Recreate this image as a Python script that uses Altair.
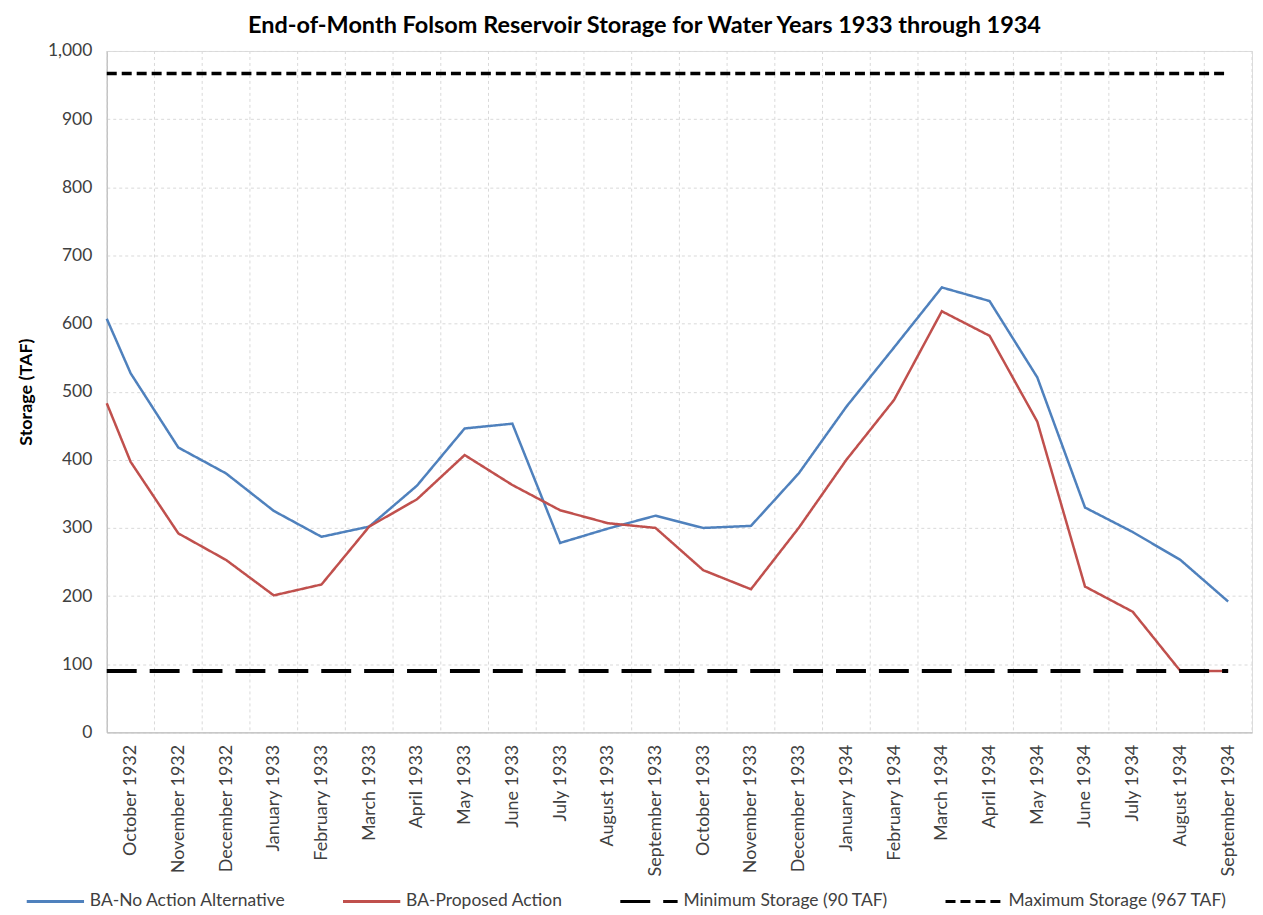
import json
import altair as alt
import pandas as pd

months = [
    "October 1932", "November 1932", "December 1932", "January 1933",
    "February 1933", "March 1933", "April 1933", "May 1933", "June 1933",
    "July 1933", "August 1933", "September 1933", "October 1933",
    "November 1933", "December 1933", "January 1934", "February 1934",
    "March 1934", "April 1934", "May 1934", "June 1934", "July 1934",
    "August 1934", "September 1934",
]
no_action = [527, 418, 380, 325, 287, 302, 362, 446, 453, 278, 299, 318,
             300, 303, 380, 478, 565, 653, 633, 521, 330, 294, 253, 192]
proposed = [397, 292, 253, 201, 217, 302, 342, 407, 363, 326, 307, 300,
            238, 210, 300, 400, 488, 618, 582, 456, 214, 177, 90, 90]
start_no_action = 607
start_proposed = 483
min_storage = 90
max_storage = 967
series_names = [
    "BA-No Action Alternative",
    "BA-Proposed Action",
    "Minimum Storage (90 TAF)",
    "Maximum Storage (967 TAF)",
]
series_colors = ["#4F81BD", "#C0504D", "#000000", "#000000"]
series_dashes = [[1, 0], [1, 0], [30, 13], [10, 5]]
y_ticks = list(range(0, 1001, 100))

FONT = "Lato"

# positions: start-of-period point sits at the left edge (-0.5), months at 0..23
xs = [-0.5] + list(range(len(months)))
rows = []
for x, v in zip(xs, [start_no_action] + no_action):
    rows.append({"x": x, "value": v, "series": series_names[0]})
for x, v in zip(xs, [start_proposed] + proposed):
    rows.append({"x": x, "value": v, "series": series_names[1]})
df_lines = pd.DataFrame(rows)

df_min = pd.DataFrame({"x": [xs[0], xs[-1]], "value": [min_storage] * 2,
                       "series": [series_names[2]] * 2})
df_max = pd.DataFrame({"x": [xs[0], xs[-1]], "value": [max_storage] * 2,
                       "series": [series_names[3]] * 2})
df_grid = pd.DataFrame({"b": [i - 0.5 for i in range(len(months) + 1)]})

x_scale = alt.Scale(domain=[-0.5, len(months) - 0.5], nice=False, zero=False)
y_scale = alt.Scale(domain=[0, 1000], nice=False)

label_expr = json.dumps(months) + "[datum.value]"

x_enc = alt.X(
    "x:Q", scale=x_scale,
    axis=alt.Axis(
        values=list(range(len(months))), labelExpr=label_expr, title=None,
        grid=False, ticks=False, labelAngle=270, labelAlign="right",
        labelBaseline="middle", labelPadding=12, labelFont=FONT,
        labelFontSize=18, labelColor="#404040", domainColor="#bfbfbf",
        domainWidth=1.3, labelOverlap=False, labelBound=False,
    ),
)
y_enc = alt.Y(
    "value:Q", scale=y_scale,
    axis=alt.Axis(
        values=y_ticks, format=",.0f", title="Storage (TAF)", grid=True,
        gridDash=[3, 3], gridColor="#d9d9d9", gridWidth=1, ticks=False,
        labelPadding=15, labelFont=FONT, labelFontSize=17.5, labelColor="#404040",
        titleFont=FONT, titleFontSize=18, titleFontWeight="bold",
        titleColor="#000000", titlePadding=12, domainColor="#bfbfbf",
        domainWidth=1.3,
    ),
)
legend_args = dict(
    title=None, orient="none", direction="horizontal", legendX=-82,
    legendY=822, symbolType="stroke", symbolSize=3300,
    symbolStrokeWidth=3, labelFont=FONT, labelFontSize=17.5,
    labelColor="#404040", columnPadding=50, labelOffset=4, labelLimit=0,
)
color_enc = alt.Color(
    "series:N",
    scale=alt.Scale(domain=series_names, range=series_colors),
    legend=alt.Legend(**legend_args),
)
dash_enc = alt.StrokeDash(
    "series:N",
    scale=alt.Scale(domain=series_names, range=series_dashes),
    legend=alt.Legend(**legend_args),
)

grid = alt.Chart(df_grid).mark_rule(
    color="#d9d9d9", strokeDash=[3, 3], strokeWidth=1
).encode(x=alt.X("b:Q", scale=x_scale))

lines = alt.Chart(df_lines).mark_line(strokeWidth=2.5).encode(
    x=x_enc, y=y_enc, color=color_enc, strokeDash=dash_enc,
    detail="series:N",
)
min_line = alt.Chart(df_min).mark_line(strokeWidth=4).encode(
    x=alt.X("x:Q", scale=x_scale), y=alt.Y("value:Q", scale=y_scale),
    color=color_enc, strokeDash=dash_enc,
)
max_line = alt.Chart(df_max).mark_line(strokeWidth=3.5).encode(
    x=alt.X("x:Q", scale=x_scale), y=alt.Y("value:Q", scale=y_scale),
    color=color_enc, strokeDash=dash_enc,
)

chart = alt.layer(grid, lines, min_line, max_line).properties(
    width=1148,
    height=683,
    padding={"left": 9, "top": 4, "right": 2, "bottom": 0},
    title=alt.TitleParams(
        "End-of-Month Folsom Reservoir Storage for Water Years 1933 through 1934",
        font=FONT, fontSize=23.5, fontWeight="bold", color="#000000",
        anchor="middle", dx=-35, offset=5,
    ),
).configure_view(stroke="#404040", strokeWidth=1.3).configure(background="white")

chart.save("out.html", embed_options={"renderer": "svg", "actions": False})
